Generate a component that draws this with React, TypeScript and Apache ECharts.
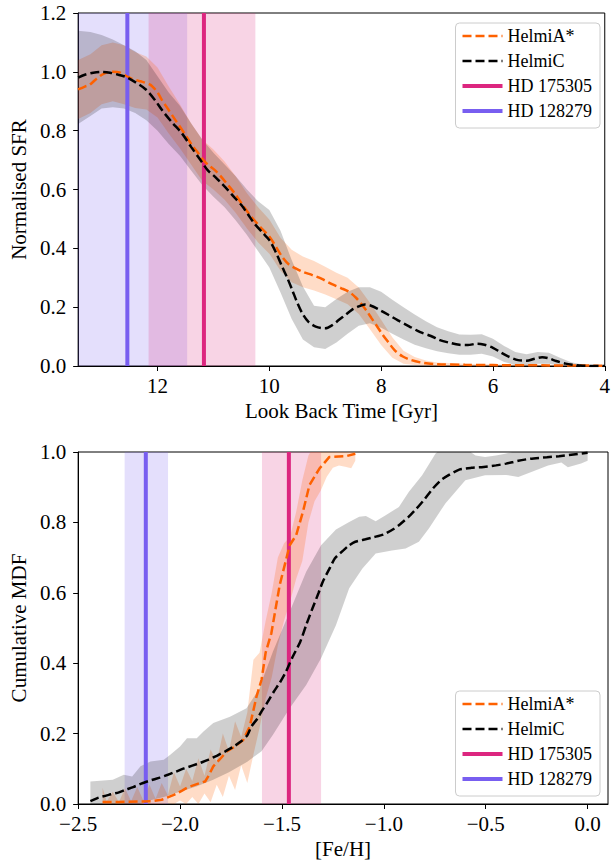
import React, { useEffect, useRef } from "react";
import * as echarts from "echarts";

type Pt = [number, number];
type Tri = [number, number, number];

// ---------- top panel: Normalised SFR vs look back time ----------
const sfrHelmiA: Pt[] = [
  [13.42, 0.94], [13.3, 0.95], [13.22, 0.955], [13.1, 0.975], [12.95, 0.995], [12.8, 1.0],
  [12.68, 0.998], [12.55, 0.985], [12.48, 0.978], [12.35, 0.97], [12.27, 0.966], [12.15, 0.958],
  [12.09, 0.95], [12.0, 0.93], [11.92, 0.904], [11.8, 0.87], [11.68, 0.836], [11.5, 0.785],
  [11.38, 0.75], [11.27, 0.723], [11.18, 0.7], [11.09, 0.683], [10.97, 0.665], [10.86, 0.643],
  [10.74, 0.615], [10.62, 0.587], [10.47, 0.545], [10.32, 0.507], [10.15, 0.47], [10.0, 0.44],
  [9.88, 0.405], [9.77, 0.371], [9.65, 0.345], [9.53, 0.332], [9.4, 0.32], [9.23, 0.309],
  [9.05, 0.295], [8.88, 0.278], [8.72, 0.265], [8.58, 0.253], [8.45, 0.232], [8.35, 0.21],
  [8.25, 0.185], [8.17, 0.162], [8.08, 0.137], [7.99, 0.111], [7.88, 0.083], [7.76, 0.054],
  [7.62, 0.033], [7.46, 0.02], [7.23, 0.01], [7.0, 0.006], [6.5, 0.004], [6.0, 0.003],
  [5.0, 0.002], [4.0, 0.001],
];

const sfrHelmiC: Pt[] = [
  [13.42, 0.98], [13.3, 0.99], [13.15, 0.997], [13.0, 1.0], [12.85, 0.997], [12.7, 0.99],
  [12.57, 0.983], [12.4, 0.965], [12.21, 0.94], [12.05, 0.905], [11.92, 0.87], [11.75, 0.83],
  [11.56, 0.79], [11.4, 0.745], [11.21, 0.694], [11.1, 0.665], [10.97, 0.643], [10.85, 0.62],
  [10.74, 0.598], [10.62, 0.572], [10.5, 0.547], [10.38, 0.515], [10.27, 0.485], [10.13, 0.455],
  [10.0, 0.428], [9.88, 0.385], [9.77, 0.337], [9.68, 0.3], [9.59, 0.258], [9.5, 0.215],
  [9.41, 0.179], [9.3, 0.15], [9.17, 0.134], [9.0, 0.128], [8.88, 0.138], [8.76, 0.156],
  [8.63, 0.175], [8.53, 0.19], [8.4, 0.203], [8.29, 0.209], [8.18, 0.205], [8.05, 0.193],
  [7.88, 0.175], [7.7, 0.155], [7.5, 0.135], [7.3, 0.115], [7.11, 0.102], [6.95, 0.088],
  [6.8, 0.08], [6.6, 0.072], [6.45, 0.071], [6.28, 0.076], [6.15, 0.072], [6.0, 0.062],
  [5.85, 0.045], [5.72, 0.032], [5.55, 0.02], [5.4, 0.018], [5.25, 0.025], [5.12, 0.03],
  [5.0, 0.026], [4.87, 0.017], [4.7, 0.008], [4.55, 0.004], [4.4, 0.001], [4.2, 0.0], [4.0, 0.0],
];

// [time, lower, upper]
const sfrBandA: Tri[] = [
  [13.42, 0.84, 1.04], [13.2, 0.86, 1.06], [13.0, 0.89, 1.09], [12.8, 0.9, 1.1], [12.6, 0.89, 1.09],
  [12.4, 0.877, 1.067], [12.2, 0.872, 1.052], [12.0, 0.845, 1.015], [11.8, 0.79, 0.95],
  [11.6, 0.74, 0.89], [11.4, 0.685, 0.825], [11.2, 0.63, 0.77], [11.0, 0.6, 0.736],
  [10.8, 0.565, 0.695], [10.6, 0.52, 0.644], [10.4, 0.467, 0.587], [10.2, 0.42, 0.54],
  [10.0, 0.382, 0.498], [9.8, 0.324, 0.436], [9.6, 0.285, 0.395], [9.4, 0.268, 0.372],
  [9.2, 0.257, 0.357], [9.0, 0.243, 0.337], [8.8, 0.227, 0.317], [8.6, 0.21, 0.3],
  [8.4, 0.177, 0.267], [8.2, 0.125, 0.215], [8.0, 0.071, 0.157], [7.8, 0.028, 0.098],
  [7.6, 0.008, 0.052], [7.4, 0.003, 0.031], [7.2, 0.001, 0.019], [7.0, 0.0, 0.012],
  [6.5, 0.0, 0.008], [6.0, 0.0, 0.006], [5.0, 0.0, 0.004], [4.0, 0.0, 0.002],
];

const sfrBandC: Tri[] = [
  [13.42, 0.823, 1.14], [13.2, 0.85, 1.135], [13.0, 0.875, 1.125], [12.8, 0.88, 1.11],
  [12.6, 0.875, 1.09], [12.4, 0.86, 1.07], [12.2, 0.835, 1.04], [12.0, 0.8, 0.985],
  [11.8, 0.755, 0.93], [11.6, 0.715, 0.885], [11.4, 0.665, 0.825], [11.2, 0.615, 0.77],
  [11.0, 0.575, 0.725], [10.8, 0.54, 0.685], [10.6, 0.495, 0.645], [10.4, 0.445, 0.6],
  [10.2, 0.39, 0.56], [10.0, 0.335, 0.53], [9.8, 0.25, 0.46], [9.6, 0.16, 0.36],
  [9.4, 0.09, 0.27], [9.2, 0.064, 0.205], [9.0, 0.058, 0.2], [8.8, 0.08, 0.228],
  [8.6, 0.11, 0.252], [8.4, 0.137, 0.268], [8.2, 0.145, 0.268], [8.0, 0.13, 0.252],
  [7.8, 0.11, 0.225], [7.6, 0.09, 0.2], [7.4, 0.072, 0.175], [7.2, 0.06, 0.152],
  [7.0, 0.05, 0.132], [6.8, 0.043, 0.118], [6.6, 0.038, 0.107], [6.4, 0.038, 0.106],
  [6.2, 0.042, 0.108], [6.0, 0.032, 0.093], [5.8, 0.014, 0.068], [5.6, 0.003, 0.048],
  [5.4, 0.002, 0.04], [5.2, 0.008, 0.048], [5.0, 0.008, 0.045], [4.8, 0.002, 0.028],
  [4.6, 0.0, 0.013], [4.4, 0.0, 0.005], [4.2, 0.0, 0.002], [4.0, 0.0, 0.001],
];

// star ages: [centre, band start, band end]
const ageHD175305: Tri = [11.17, 12.16, 10.25];
const ageHD128279: Tri = [12.54, 13.61, 11.47];

// ---------- bottom panel: cumulative MDF vs [Fe/H] ----------
const mdfHelmiA: Pt[] = [
  [-2.38, 0.006], [-2.3, 0.006], [-2.2, 0.007], [-2.14, 0.008], [-2.09, 0.012], [-2.03, 0.026],
  [-1.99, 0.038], [-1.96, 0.048], [-1.9, 0.06], [-1.877, 0.064], [-1.86, 0.08], [-1.837, 0.107],
  [-1.8, 0.13], [-1.771, 0.149], [-1.731, 0.163], [-1.69, 0.182], [-1.658, 0.22], [-1.625, 0.305],
  [-1.6, 0.353], [-1.58, 0.43], [-1.552, 0.485], [-1.511, 0.622], [-1.462, 0.735], [-1.43, 0.764],
  [-1.397, 0.83], [-1.365, 0.906], [-1.316, 0.953], [-1.267, 0.986], [-1.186, 0.988], [-1.14, 0.995],
];

const mdfHelmiC: Pt[] = [
  [-2.44, 0.008], [-2.4, 0.018], [-2.35, 0.026], [-2.3, 0.033], [-2.27, 0.04], [-2.23, 0.048],
  [-2.19, 0.058], [-2.15, 0.066], [-2.1, 0.075], [-2.06, 0.083], [-2.02, 0.092], [-1.98, 0.101],
  [-1.94, 0.109], [-1.9, 0.117], [-1.86, 0.126], [-1.82, 0.137], [-1.78, 0.149], [-1.74, 0.162],
  [-1.7, 0.178], [-1.67, 0.195], [-1.65, 0.22], [-1.62, 0.243], [-1.6, 0.263], [-1.57, 0.29],
  [-1.54, 0.319], [-1.51, 0.345], [-1.48, 0.376], [-1.45, 0.415], [-1.41, 0.461], [-1.38, 0.51],
  [-1.35, 0.556], [-1.32, 0.6], [-1.3, 0.631], [-1.27, 0.665], [-1.24, 0.698], [-1.2, 0.72],
  [-1.17, 0.735], [-1.14, 0.745], [-1.09, 0.752], [-1.05, 0.758], [-1.0, 0.766], [-0.95, 0.782],
  [-0.92, 0.795], [-0.88, 0.815], [-0.84, 0.839], [-0.8, 0.866], [-0.76, 0.896], [-0.72, 0.92],
  [-0.68, 0.935], [-0.63, 0.95], [-0.57, 0.955], [-0.52, 0.957], [-0.45, 0.962], [-0.4, 0.967],
  [-0.34, 0.975], [-0.28, 0.981], [-0.2, 0.985], [-0.14, 0.988], [-0.07, 0.993], [0.0, 0.998],
];

// [Fe/H, lower, upper]
const mdfBandA: Tri[] = [
  [-2.38, 0, 0.046], [-2.36, 0, 0.008], [-2.33, 0, 0.035], [-2.3, 0, 0.006], [-2.27, 0, 0.045],
  [-2.24, 0, 0.008], [-2.21, 0, 0.048], [-2.18, 0, 0.01], [-2.15, 0, 0.055], [-2.12, 0, 0.015],
  [-2.09, 0, 0.06], [-2.06, 0.002, 0.025], [-2.03, 0, 0.09], [-2.0, 0.01, 0.05], [-1.97, 0, 0.1],
  [-1.94, 0.02, 0.065], [-1.91, 0, 0.13], [-1.88, 0.03, 0.08], [-1.85, 0.005, 0.155],
  [-1.82, 0.055, 0.12], [-1.79, 0.02, 0.2], [-1.76, 0.08, 0.15], [-1.73, 0.04, 0.235],
  [-1.7, 0.11, 0.19], [-1.67, 0.06, 0.26], [-1.64, 0.14, 0.41], [-1.61, 0.216, 0.43],
  [-1.58, 0.3, 0.52], [-1.55, 0.36, 0.6], [-1.52, 0.45, 0.7], [-1.49, 0.52, 0.74],
  [-1.46, 0.575, 0.76], [-1.43, 0.64, 0.83], [-1.4, 0.69, 0.92], [-1.37, 0.8, 0.99],
  [-1.34, 0.86, 1.02], [-1.31, 0.89, 1.03], [-1.28, 0.93, 1.03], [-1.25, 0.955, 1.03],
  [-1.22, 0.962, 1.02], [-1.19, 0.958, 1.02], [-1.16, 0.954, 1.02], [-1.14, 0.975, 1.02],
];

const mdfBandCUpper: Pt[] = [
  [-2.44, 0.064], [-2.33, 0.069], [-2.276, 0.083], [-2.235, 0.078], [-2.194, 0.107],
  [-2.145, 0.121], [-2.08, 0.126], [-2.048, 0.14], [-2.0, 0.163], [-1.966, 0.187],
  [-1.918, 0.187], [-1.885, 0.206], [-1.837, 0.23], [-1.755, 0.248], [-1.674, 0.272],
  [-1.609, 0.329], [-1.593, 0.357], [-1.544, 0.433], [-1.462, 0.546], [-1.381, 0.66],
  [-1.308, 0.735], [-1.235, 0.78], [-1.17, 0.801], [-1.121, 0.816], [-1.088, 0.818],
  [-1.04, 0.803], [-0.991, 0.82], [-0.926, 0.844], [-0.877, 0.887], [-0.812, 0.934],
  [-0.747, 0.995], [-0.7, 1.02], [-0.6, 1.01], [-0.55, 0.99], [-0.503, 0.986], [-0.45, 0.99],
  [-0.405, 0.995], [-0.3, 1.01], [0.0, 1.01],
];
const mdfBandCLower: Pt[] = [
  [-2.44, 0], [-2.2, 0.0], [-2.15, 0.01], [-2.08, 0.02], [-2.0, 0.035], [-1.92, 0.05],
  [-1.84, 0.068], [-1.76, 0.09], [-1.67, 0.12], [-1.6, 0.15], [-1.544, 0.197], [-1.462, 0.272],
  [-1.381, 0.338], [-1.308, 0.414], [-1.235, 0.508], [-1.17, 0.613], [-1.105, 0.669],
  [-1.04, 0.712], [-0.96, 0.72], [-0.893, 0.726], [-0.828, 0.745], [-0.779, 0.783],
  [-0.698, 0.854], [-0.6, 0.92], [-0.503, 0.934], [-0.4, 0.935], [-0.34, 0.929],
  [-0.276, 0.943], [-0.194, 0.962], [-0.129, 0.97], [-0.097, 0.957], [-0.032, 0.967], [0.0, 0.975],
];

// star metallicities: [centre, band start, band end]
const fehHD175305: Tri = [-1.466, -1.598, -1.308];
const fehHD128279: Tri = [-2.168, -2.272, -2.059];

const topXTicks = [4, 6, 8, 10, 12];
const botXTicks = [-2.5, -2.0, -1.5, -1.0, -0.5, 0.0];
const topY = [0, 1.2];
const botY = [0, 1.0];

const legendNames = ["HelmiA*", "HelmiC", "HD 175305", "HD 128279"];

// ---------- styling ----------
const FONT = "Liberation Serif";
const ORANGE = "#FE6100";
const MAGENTA = "#DC267F";
const VIOLET = "#785EF0";

function polySeries(g: number, upper: Pt[], lower: Pt[], fill: string, z: number) {
  return {
    type: "custom",
    coordinateSystem: "cartesian2d",
    xAxisIndex: g,
    yAxisIndex: g,
    clip: true,
    silent: true,
    z,
    data: [upper[0]],
    renderItem: (params: any, api: any) => {
      if (params.dataIndex !== 0) return null;
      const pts = upper
        .map((p) => api.coord(p))
        .concat(lower.slice().reverse().map((p) => api.coord(p)));
      return { type: "polygon", shape: { points: pts }, style: { fill, stroke: null } };
    },
  };
}
const up = (b: Tri[]): Pt[] => b.map(([x, , h]) => [x, h]);
const lo = (b: Tri[]): Pt[] => b.map(([x, l]) => [x, l]);

function span(g: number, s: Tri, yr: number[], fill: string) {
  return polySeries(g, [[s[1], yr[1]], [s[2], yr[1]]], [[s[1], yr[0]], [s[2], yr[0]]], fill, 1);
}
function vline(g: number, name: string, s: Tri, yr: number[], color: string) {
  return {
    type: "line",
    name,
    xAxisIndex: g,
    yAxisIndex: g,
    data: [[s[0], yr[0]], [s[0], yr[1]]],
    symbol: "none",
    lineStyle: { color, width: 4 },
    itemStyle: { color },
    z: 5,
    silent: true,
  };
}
function dashed(g: number, name: string, data: Pt[], color: string, smooth: number) {
  return {
    type: "line",
    name,
    xAxisIndex: g,
    yAxisIndex: g,
    data,
    symbol: "none",
    smooth,
    lineStyle: { color, width: 2.5, type: [9, 4] },
    itemStyle: { color },
    z: 6,
    silent: true,
  };
}

const fmtMinus = (v: number, d: number) => v.toFixed(d).replace("-", "\u2212");

function xAxis(g: number, name: string, min: number, max: number, interval: number, ticks: number[], inverse: boolean, dec: number) {
  return {
    type: "value",
    gridIndex: g,
    min,
    max,
    interval,
    inverse,
    name,
    nameLocation: "middle",
    nameGap: 34,
    nameTextStyle: { fontSize: 21, fontFamily: FONT, color: "#000" },
    axisLine: { show: true, onZero: false, lineStyle: { color: "#000", width: 1 } },
    axisTick: { show: true, length: 5, inside: false, customValues: ticks, lineStyle: { color: "#000", width: 1 } },
    axisLabel: {
      fontSize: 21,
      fontFamily: FONT,
      color: "#000",
      margin: 9,
      customValues: ticks,
      formatter: (v: number) => fmtMinus(v, dec),
    },
    splitLine: { show: false },
  };
}
function yAxis(g: number, name: string, yr: number[]) {
  return {
    type: "value",
    gridIndex: g,
    min: yr[0],
    max: yr[1],
    interval: 0.2,
    name,
    nameLocation: "middle",
    nameRotate: 90,
    nameGap: 46,
    nameTextStyle: { fontSize: 21, fontFamily: FONT, color: "#000" },
    axisLine: { show: true, onZero: false, lineStyle: { color: "#000", width: 1 } },
    axisTick: { show: true, length: 5, inside: false, lineStyle: { color: "#000", width: 1 } },
    axisLabel: { fontSize: 21, fontFamily: FONT, color: "#000", margin: 12, formatter: (v: number) => v.toFixed(1) },
    splitLine: { show: false },
  };
}
function legend(top: number) {
  return {
    orient: "vertical",
    right: 13,
    top,
    itemWidth: 40,
    itemHeight: 14,
    itemGap: 7,
    itemTextGap: 11,
    selectedMode: false,
    padding: [4, 8, 8, 5],
    backgroundColor: "rgba(255,255,255,0.8)",
    borderColor: "#cccccc",
    borderWidth: 1,
    borderRadius: 4,
    textStyle: { fontSize: 18, fontFamily: FONT, color: "#000" },
    data: legendNames.map((n, i) => ({
      name: n,
      lineStyle: { width: i < 2 ? 2.5 : 4 },
      itemStyle: { color: "rgba(0,0,0,0)", borderWidth: 0, borderColor: "rgba(0,0,0,0)" },
    })),
  };
}

export default function App() {
  const ref = useRef<HTMLDivElement>(null);
  useEffect(() => {
    if (!ref.current) return;
    const chart = echarts.init(ref.current, undefined, { renderer: "svg" });
    chart.setOption({
      animation: false,
      backgroundColor: "#ffffff",
      textStyle: { fontFamily: FONT },
      grid: [
        { left: 77, top: 13, width: 531, height: 353, show: true, borderColor: "#000", borderWidth: 1, backgroundColor: "transparent" },
        { left: 77, top: 452, width: 531, height: 352, show: true, borderColor: "#000", borderWidth: 1, backgroundColor: "transparent" },
      ],
      xAxis: [
        xAxis(0, "Look Back Time [Gyr]", 4, 13.42, 2, topXTicks, true, 0),
        xAxis(1, "[Fe/H]", -2.5, 0.1, 0.5, botXTicks, false, 1),
      ],
      yAxis: [yAxis(0, "Normalised SFR", topY), yAxis(1, "Cumulative MDF", botY)],
      legend: [legend(23), legend(691)],
      series: [
        span(0, ageHD128279, topY, "rgba(120,94,240,0.2)"),
        span(0, ageHD175305, topY, "rgba(220,38,127,0.2)"),
        polySeries(0, up(sfrBandA), lo(sfrBandA), "rgba(254,97,0,0.22)", 2),
        polySeries(0, up(sfrBandC), lo(sfrBandC), "rgba(0,0,0,0.19)", 3),
        vline(0, "HD 175305", ageHD175305, topY, MAGENTA),
        vline(0, "HD 128279", ageHD128279, topY, VIOLET),
        dashed(0, "HelmiA*", sfrHelmiA, ORANGE, 0.3),
        dashed(0, "HelmiC", sfrHelmiC, "#000000", 0.3),

        span(1, fehHD128279, botY, "rgba(120,94,240,0.2)"),
        span(1, fehHD175305, botY, "rgba(220,38,127,0.2)"),
        polySeries(1, up(mdfBandA), lo(mdfBandA), "rgba(254,97,0,0.22)", 2),
        polySeries(1, mdfBandCUpper, mdfBandCLower, "rgba(0,0,0,0.19)", 3),
        vline(1, "HD 175305", fehHD175305, botY, MAGENTA),
        vline(1, "HD 128279", fehHD128279, botY, VIOLET),
        dashed(1, "HelmiA*", mdfHelmiA, ORANGE, 0),
        dashed(1, "HelmiC", mdfHelmiC, "#000000", 0.2),
      ],
    });
    return () => chart.dispose();
  }, []);
  return (
    <div
      ref={ref}
      style={{ position: "fixed", left: 0, top: 0, width: 613, height: 864, background: "#fff" }}
    />
  );
}
